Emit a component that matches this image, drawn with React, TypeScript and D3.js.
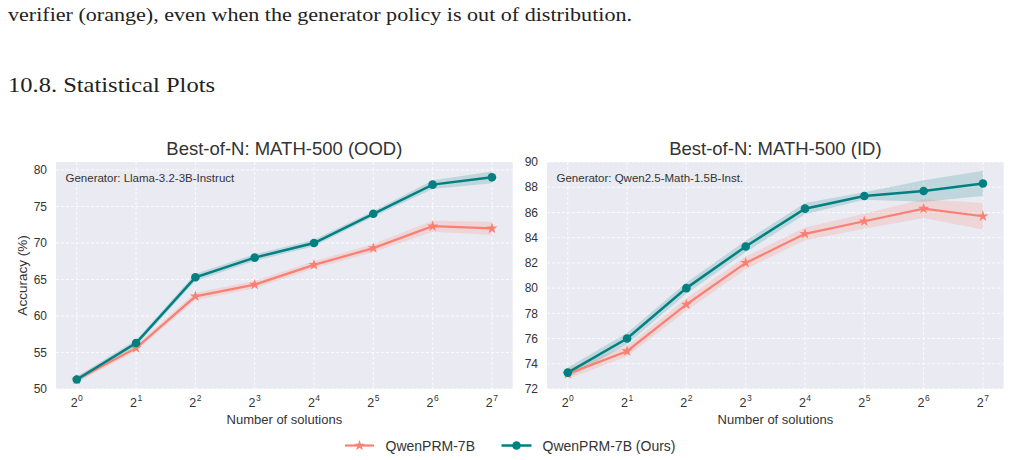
import React from 'react';
import * as d3 from 'd3';

// Number of solutions, as powers of two
const exponents = [0, 1, 2, 3, 4, 5, 6, 7];

// MATH-500 (OOD), generator Llama-3.2-3B-Instruct
const oodOurs = [51.3, 56.3, 65.3, 68.0, 70.0, 74.0, 78.0, 79.0];
const oodOursErr = [0.4, 0.4, 0.5, 0.45, 0.45, 0.4, 0.6, 0.8];
const oodBase = [51.3, 55.6, 62.7, 64.3, 67.0, 69.3, 72.3, 72.0];
const oodBaseErr = [0.4, 0.4, 0.5, 0.5, 0.5, 0.55, 0.75, 0.9];

// MATH-500 (ID), generator Qwen2.5-Math-1.5B-Inst.
const idOurs = [73.3, 76.0, 80.0, 83.3, 86.3, 87.3, 87.7, 88.3];
const idOursErr = [0.4, 0.45, 0.45, 0.45, 0.45, 0.3, 0.85, 1.0];
const idBase = [73.2, 75.0, 78.7, 82.0, 84.3, 85.3, 86.3, 85.7];
const idBaseErr = [0.4, 0.4, 0.5, 0.5, 0.5, 0.6, 0.75, 1.05];

const oodTicks = [50, 55, 60, 65, 70, 75, 80];
const idTicks = [72, 74, 76, 78, 80, 82, 84, 86, 88, 90];

const seriesNames = ['QwenPRM-7B', 'QwenPRM-7B (Ours)'];

const TEAL = '#008080';
const SALMON = '#fa8072';
const BG = '#eaeaf2';
const INK = '#333333';
const FONT = '"Liberation Sans", Arial, sans-serif';
const SERIF = '"Liberation Serif", "DejaVu Serif", serif';

const TOP = 162;
const BOTTOM = 389;

type PanelProps = {
  left: number;
  right: number;
  yDomain: [number, number];
  yTicks: number[];
  title: string;
  generator: string;
  ours: number[];
  oursErr: number[];
  base: number[];
  baseErr: number[];
  yLabel?: boolean;
};

const starPath = d3.symbol().type(d3.symbolStar).size(38)() || '';

const Panel: React.FC<PanelProps> = (p) => {
  const x = d3.scaleLinear().domain([-0.35, 7.35]).range([p.left, p.right]);
  const y = d3.scaleLinear().domain(p.yDomain).range([BOTTOM, TOP]);

  const line = d3
    .line<number>()
    .x((_, i) => x(exponents[i]))
    .y((d) => y(d));

  const band = (vals: number[], err: number[]) =>
    d3
      .area<number>()
      .x((_, i) => x(exponents[i]))
      .y0((d, i) => y(d - err[i]))
      .y1((d, i) => y(d + err[i]))(vals) || '';

  const cx = (p.left + p.right) / 2;

  return (
    <g fontFamily={FONT}>
      <rect x={p.left} y={TOP} width={p.right - p.left} height={BOTTOM - TOP} fill={BG} />
      {p.yTicks.map((t) => (
        <line key={'gy' + t} x1={p.left} x2={p.right} y1={y(t)} y2={y(t)}
          stroke="#fff" strokeWidth={0.8} strokeDasharray="3,2" />
      ))}
      {exponents.map((e) => (
        <line key={'gx' + e} x1={x(e)} x2={x(e)} y1={TOP} y2={BOTTOM}
          stroke="#fff" strokeWidth={0.8} strokeDasharray="3,2" />
      ))}

      <path d={band(p.base, p.baseErr)} fill={SALMON} fillOpacity={0.2} />
      <path d={band(p.ours, p.oursErr)} fill={TEAL} fillOpacity={0.18} />

      <path d={line(p.base) || ''} fill="none" stroke={SALMON} strokeWidth={2.2} />
      {p.base.map((v, i) => (
        <path key={'s' + i} d={starPath} transform={`translate(${x(exponents[i])},${y(v)})`} fill={SALMON} />
      ))}
      <path d={line(p.ours) || ''} fill="none" stroke={TEAL} strokeWidth={2.5} />
      {p.ours.map((v, i) => (
        <circle key={'c' + i} cx={x(exponents[i])} cy={y(v)} r={4.3} fill={TEAL} />
      ))}

      {/* y tick labels */}
      {p.yTicks.map((t) => (
        <text key={'ty' + t} x={p.left - 9} y={y(t)} dy="0.35em" textAnchor="end" fontSize={12} fill={INK}>
          {t}
        </text>
      ))}
      {/* x tick labels as powers of two */}
      {exponents.map((e) => (
        <text key={'tx' + e} x={x(e)} y={406.5} textAnchor="middle" fontSize={12.5} fill={INK}>
          2<tspan dy={-6} dx={0.5} fontSize={8.5}>{e}</tspan>
        </text>
      ))}

      <text x={cx} y={155} textAnchor="middle" fontSize={18.5} fill={INK}>{p.title}</text>
      <text x={p.left + 9.5} y={181.5} fontSize={11.5} fill={INK}>{p.generator}</text>
      <text x={cx} y={424} textAnchor="middle" fontSize={13} fill={INK}>Number of solutions</text>
      {p.yLabel && (
        <text transform={`translate(27,${(TOP + BOTTOM) / 2}) rotate(-90)`} textAnchor="middle" fontSize={13.5} fill={INK}>
          Accuracy (%)
        </text>
      )}
    </g>
  );
};

const App: React.FC = () => {
  return (
    <svg
      width={1009}
      height={460}
      viewBox="0 0 1009 460"
      style={{ position: 'absolute', left: 0, top: 0, background: '#fff' }}
    >
      <text x={8} y={21} fontFamily={SERIF} fontSize={19}
        fill="#222" textLength={624} lengthAdjust="spacingAndGlyphs">
        verifier (orange), even when the generator policy is out of distribution.
      </text>
      <text x={8} y={91.5} fontFamily={SERIF} fontSize={22}
        fill="#222" textLength={207} lengthAdjust="spacingAndGlyphs">
        10.8. Statistical Plots
      </text>

      <Panel left={56} right={512.7} yDomain={[50, 81.1]} yTicks={oodTicks}
        title="Best-of-N: MATH-500 (OOD)" generator="Generator: Llama-3.2-3B-Instruct"
        ours={oodOurs} oursErr={oodOursErr} base={oodBase} baseErr={oodBaseErr} yLabel />
      <Panel left={547} right={1003.7} yDomain={[72, 90]} yTicks={idTicks}
        title="Best-of-N: MATH-500 (ID)" generator="Generator: Qwen2.5-Math-1.5B-Inst."
        ours={idOurs} oursErr={idOursErr} base={idBase} baseErr={idBaseErr} />

      {/* legend */}
      <g fontFamily={FONT} fontSize={14} fill={INK}>
        <line x1={345} x2={374} y1={445.5} y2={445.5} stroke={SALMON} strokeWidth={2.2} />
        <path d={starPath} transform="translate(359.5,445.5)" fill={SALMON} />
        <text x={385.5} y={450.5}>{seriesNames[0]}</text>
        <line x1={501.5} x2={531.5} y1={445.5} y2={445.5} stroke={TEAL} strokeWidth={2.5} />
        <circle cx={516.5} cy={445.5} r={4.3} fill={TEAL} />
        <text x={542.5} y={450.5}>{seriesNames[1]}</text>
      </g>
    </svg>
  );
};

export default App;
